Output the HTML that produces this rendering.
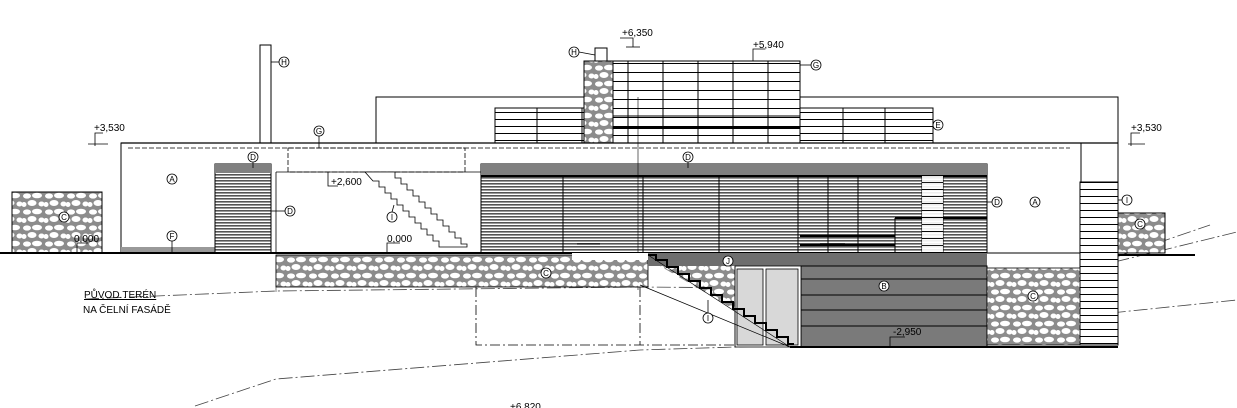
<!DOCTYPE html>
<html><head><meta charset="utf-8"><style>
html,body{margin:0;padding:0;background:#fff;}
svg{display:block;}
text{font-family:"Liberation Sans",sans-serif;font-size:10px;fill:#000;}
.c{fill:#fff;stroke:#000;stroke-width:0.8;}
.lt{font-size:8px;text-anchor:middle;}
</style></head><body>
<svg width="1237" height="408" viewBox="0 0 1237 408" xmlns="http://www.w3.org/2000/svg">
<defs>
<pattern id="stone" width="22" height="16" patternUnits="userSpaceOnUse">
<rect width="22" height="16" fill="#8c8c8c"/>
<ellipse cx="5" cy="4" rx="4" ry="2.6" fill="#fff"/>
<ellipse cx="15" cy="3.5" rx="5" ry="2.8" fill="#fff"/>
<ellipse cx="10" cy="11" rx="4.5" ry="3" fill="#fff"/>
<ellipse cx="19.5" cy="12" rx="3" ry="2.5" fill="#fff"/>
<ellipse cx="2" cy="12.5" rx="2.5" ry="2.5" fill="#fff"/>
</pattern>
<pattern id="louv" width="4" height="3" patternUnits="userSpaceOnUse">
<rect width="4" height="3" fill="#fff"/>
<rect width="4" height="1.6" fill="#555"/>
</pattern>
<pattern id="rail" width="10" height="7" patternUnits="userSpaceOnUse">
<rect width="10" height="7" fill="#fff"/>
<rect width="10" height="1" fill="#000"/>
</pattern>
<pattern id="rail2" width="10" height="9" patternUnits="userSpaceOnUse">
<rect width="10" height="9" fill="#fff"/>
<rect width="10" height="1" fill="#000"/>
</pattern>
</defs>

<g fill="none" stroke="#444" stroke-width="0.8" stroke-dasharray="14,3,2,3">
<polyline points="85,299 276,291 640,287 1000,290 1237,232"/>
<polyline points="195,406 276,379 640,350 800,345 1237,300"/>
<line x1="990" y1="300" x2="1210" y2="225"/>
</g>
<line x1="276" y1="255" x2="276" y2="292" stroke="#666" stroke-width="0.8"/>

<rect x="12" y="192" width="90" height="61" fill="url(#stone)" stroke="#000" stroke-width="1"/>
<rect x="121" y="143" width="960" height="110" fill="#fff" stroke="#000" stroke-width="1"/>
<rect x="121" y="247" width="94" height="6" fill="#999"/>
<rect x="260" y="45" width="11" height="98" fill="#fff" stroke="#000" stroke-width="1"/>
<rect x="376" y="97" width="742" height="46" fill="#fff" stroke="#000" stroke-width="1"/>
<rect x="495" y="108" width="438" height="35" fill="url(#rail)" stroke="#000" stroke-width="1"/>
<g stroke="#000" stroke-width="1">
<line x1="537" y1="108" x2="537" y2="143"/><line x1="582" y1="108" x2="582" y2="143"/>
<line x1="843" y1="108" x2="843" y2="143"/><line x1="885" y1="108" x2="885" y2="143"/>
</g>
<rect x="613" y="61" width="187" height="82" fill="url(#rail2)" stroke="#000" stroke-width="1"/>
<g stroke="#000" stroke-width="1">
<line x1="628" y1="61" x2="628" y2="143"/><line x1="663" y1="61" x2="663" y2="143"/>
<line x1="698" y1="61" x2="698" y2="143"/><line x1="733" y1="61" x2="733" y2="143"/>
<line x1="768" y1="61" x2="768" y2="143"/>
<line x1="613" y1="128" x2="800" y2="128" stroke-width="2"/>
<line x1="613" y1="116" x2="800" y2="116"/>
</g>
<rect x="584" y="61" width="29" height="82" fill="url(#stone)" stroke="#000" stroke-width="1"/>
<rect x="595" y="48" width="12" height="13" fill="#fff" stroke="#000" stroke-width="1"/>

<line x1="121" y1="143" x2="1118" y2="143" stroke="#000" stroke-width="1.2"/>
<line x1="128" y1="148" x2="1070" y2="148" stroke="#000" stroke-width="0.8" stroke-dasharray="5,2"/>
<rect x="288" y="148" width="177" height="24" fill="none" stroke="#000" stroke-width="0.8" stroke-dasharray="5,2"/>
<line x1="276" y1="172" x2="481" y2="172" stroke="#000" stroke-width="0.8"/>
<line x1="276" y1="172" x2="276" y2="253" stroke="#000" stroke-width="0.8"/>

<rect x="215" y="164" width="56" height="89" fill="url(#louv)" stroke="#000" stroke-width="1"/>
<rect x="215" y="164" width="56" height="9" fill="#808080"/>
<g fill="#fff" stroke="#000" stroke-width="0.8">
<path d="M365,172 h30 v6 h6 v6 h6 v6 h6 v6 h6 v6 h6 v6 h6 v6 h6 v6 h6 v6 h6 v6 h6 v6 h6 v6 h6 v3 h-28 v-6 h-6 v-6 h-6 v-6 h-6 v-6 h-6 v-6 h-6 v-6 h-6 v-6 h-6 v-6 h-6 v-6 h-6 v-6 h-6 v-6 h-6 z"/>
</g>
<rect x="481" y="164" width="506" height="89" fill="url(#louv)" stroke="#000" stroke-width="1"/>
<rect x="481" y="164" width="506" height="11" fill="#808080"/>
<line x1="481" y1="176" x2="987" y2="176" stroke="#000" stroke-width="2"/>
<g stroke="#000" stroke-width="1">
<line x1="563" y1="176" x2="563" y2="253"/><line x1="643" y1="176" x2="643" y2="253"/>
<line x1="719" y1="176" x2="719" y2="253"/><line x1="798" y1="176" x2="798" y2="253"/>
<line x1="828" y1="176" x2="828" y2="253"/><line x1="858" y1="176" x2="858" y2="253"/>
<line x1="922" y1="176" x2="922" y2="253"/><line x1="943" y1="176" x2="943" y2="253"/>
<line x1="895" y1="218" x2="987" y2="218" stroke-width="2"/>
<line x1="895" y1="218" x2="895" y2="253"/>
<line x1="800" y1="236" x2="895" y2="236" stroke-width="2"/>
<line x1="800" y1="245" x2="895" y2="245" stroke-width="2"/>
<line x1="638" y1="97" x2="638" y2="290" stroke-width="0.6"/>
</g>
<rect x="922" y="176" width="21" height="77" fill="url(#rail)" opacity="0.9"/>

<rect x="1080" y="182" width="38" height="163" fill="url(#rail)" stroke="#000" stroke-width="1"/>
<line x1="1118" y1="97" x2="1118" y2="345" stroke="#000" stroke-width="1"/>
<rect x="1118" y="213" width="47" height="40" fill="url(#stone)" stroke="#000" stroke-width="1"/>
<line x1="1118" y1="255" x2="1195" y2="255" stroke="#000" stroke-width="2"/>

<line x1="0" y1="253" x2="987" y2="253" stroke="#000" stroke-width="2"/>

<rect x="276" y="255" width="372" height="32" fill="url(#stone)" stroke="#000" stroke-width="0.8"/>
<rect x="572" y="253" width="76" height="7" fill="#fff"/>
<rect x="648" y="253" width="339" height="13" fill="#6e6e6e"/>
<path d="M660,266 L735,266 L735,310 Z" fill="url(#stone)"/>
<rect x="801" y="266" width="186" height="81" fill="#7a7a7a" stroke="#000" stroke-width="1"/>
<g stroke="#000" stroke-width="1">
<line x1="801" y1="279" x2="987" y2="279"/><line x1="801" y1="295" x2="987" y2="295"/>
<line x1="801" y1="310" x2="987" y2="310"/><line x1="801" y1="326" x2="987" y2="326"/>
</g>
<rect x="735" y="266" width="66" height="81" fill="#fff" stroke="#000" stroke-width="0.8"/>
<rect x="737" y="269" width="26" height="76" fill="#d8d8d8" stroke="#000" stroke-width="0.8"/>
<rect x="766" y="269" width="32" height="76" fill="#d8d8d8" stroke="#000" stroke-width="0.8"/>
<path d="M648,255 h8 v5 h11 v7 h11 v7 h11 v7 h11 v7 h11 v7 h11 v7 h11 v7 h11 v7 h11 v7 h11 v7 h11 v7 h11 v7 h6" fill="none" stroke="#000" stroke-width="2"/>
<g stroke="#000" stroke-width="0.7">
<line x1="648" y1="255" x2="790" y2="347"/>
<line x1="640" y1="285" x2="790" y2="347"/>
<line x1="735" y1="266" x2="735" y2="347"/>
</g>
<rect x="987" y="268" width="93" height="77" fill="url(#stone)" stroke="#000" stroke-width="0.8"/>
<path d="M476,287 V345 H735 M640,287 V345" fill="none" stroke="#000" stroke-width="0.8" stroke-dasharray="10,3,2,3"/>
<line x1="790" y1="347" x2="1118" y2="347" stroke="#000" stroke-width="2"/>

<g>
<circle class="c" cx="284" cy="62" r="5"/><text class="lt" x="284" y="65">H</text>
<circle class="c" cx="574" cy="52" r="5"/><text class="lt" x="574" y="55">H</text>
<circle class="c" cx="319" cy="131" r="5"/><text class="lt" x="319" y="134">G</text>
<circle class="c" cx="816" cy="65" r="5"/><text class="lt" x="816" y="68">G</text>
<circle class="c" cx="938" cy="125" r="5"/><text class="lt" x="938" y="128">E</text>
<circle class="c" cx="253" cy="157" r="5"/><text class="lt" x="253" y="160">D</text>
<circle class="c" cx="688" cy="157" r="5"/><text class="lt" x="688" y="160">D</text>
<circle class="c" cx="290" cy="211" r="5"/><text class="lt" x="290" y="214">D</text>
<circle class="c" cx="997" cy="202" r="5"/><text class="lt" x="997" y="205">D</text>
<circle class="c" cx="172" cy="179" r="5"/><text class="lt" x="172" y="182">A</text>
<circle class="c" cx="1035" cy="202" r="5"/><text class="lt" x="1035" y="205">A</text>
<circle class="c" cx="172" cy="236" r="5"/><text class="lt" x="172" y="239">F</text>
<circle class="c" cx="392" cy="217" r="5"/><text class="lt" x="392" y="220">I</text>
<circle class="c" cx="1127" cy="200" r="5"/><text class="lt" x="1127" y="203">I</text>
<circle class="c" cx="708" cy="318" r="5"/><text class="lt" x="708" y="321">I</text>
<circle class="c" cx="728" cy="261" r="5"/><text class="lt" x="728" y="264">J</text>
<circle class="c" cx="884" cy="286" r="5"/><text class="lt" x="884" y="289">B</text>
<circle class="c" cx="1033" cy="296" r="5"/><text class="lt" x="1033" y="299">C</text>
<circle class="c" cx="546" cy="273" r="5"/><text class="lt" x="546" y="276">C</text>
<circle class="c" cx="64" cy="217" r="5"/><text class="lt" x="64" y="220">C</text>
<circle class="c" cx="1140" cy="224" r="5"/><text class="lt" x="1140" y="227">C</text>
</g>
<g stroke="#000" stroke-width="0.8" fill="none">
<line x1="271" y1="62" x2="279" y2="62"/><line x1="579" y1="52" x2="595" y2="55"/>
<line x1="319" y1="136" x2="319" y2="148"/><line x1="800" y1="65" x2="811" y2="65"/>
<line x1="253" y1="162" x2="253" y2="168"/>
<line x1="688" y1="162" x2="688" y2="168"/><line x1="271" y1="211" x2="285" y2="211"/>
<line x1="987" y1="202" x2="992" y2="202"/><line x1="172" y1="241" x2="172" y2="253"/>
<line x1="1118" y1="200" x2="1122" y2="200"/><line x1="392" y1="212" x2="394" y2="205"/>
<line x1="708" y1="313" x2="708" y2="300"/>
<polyline points="88,144 108,144"/><polyline points="95,146 95,133 103,133"/>
<polyline points="1128,144 1145,144"/><polyline points="1131,146 1131,133 1140,133"/>
<polyline points="328,172 328,186 338,186"/>
<polyline points="387,253 387,243 400,243"/>
<polyline points="77,253 77,243 88,243"/>
<polyline points="626,47 640,47"/><polyline points="633,47 633,38 620,38"/>
<polyline points="753,61 753,49 765,49"/>
<polyline points="890,347 890,337 905,337"/>
</g>
<text x="94" y="131">+3,530</text>
<text x="1131" y="131">+3,530</text>
<text x="622" y="36">+6,350</text>
<text x="753" y="48">+5,940</text>
<text x="331" y="185">+2,600</text>
<text x="387" y="242">0,000</text>
<text x="74" y="242">0,000</text>
<text x="893" y="335">-2,950</text>
<text x="510" y="410">+6,820</text>
<text x="84" y="298" style="text-decoration:underline">PŮVOD.TERÉN</text>
<text x="83" y="313">NA ČELNÍ FASÁDĚ</text>
<g stroke="#000" stroke-width="1"><line x1="577" y1="244" x2="600" y2="244"/><line x1="820" y1="244" x2="845" y2="244"/></g>
</svg>
</body></html>
